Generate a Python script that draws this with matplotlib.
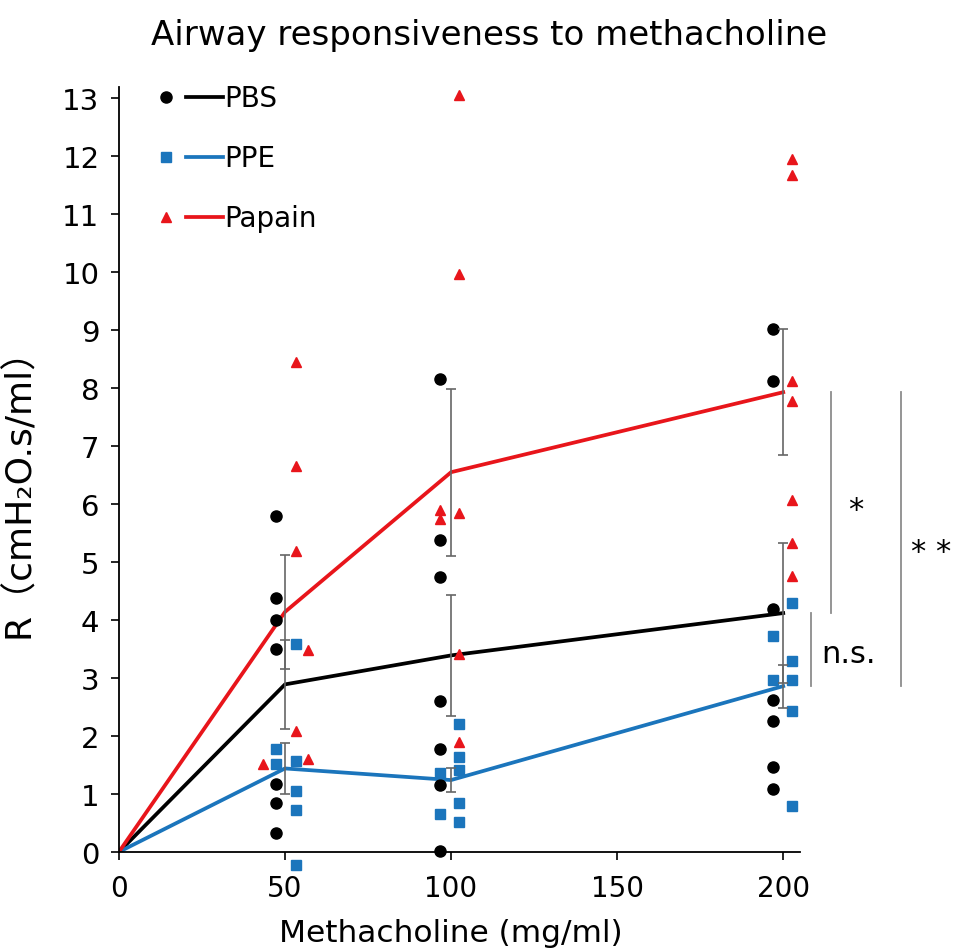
import matplotlib
matplotlib.use("Agg")
import matplotlib.pyplot as plt
from matplotlib.lines import Line2D
from matplotlib.legend_handler import HandlerTuple

plt.rcParams['font.family'] = ['DejaVu Sans', 'Noto Sans CJK JP']

# group means (lines) and SEM (error bars)
dose = [0, 50, 100, 200]
pbs_mean = [0, 2.89, 3.39, 4.12]
pbs_sem = [0, 0.77, 1.05, 1.21]
ppe_mean = [0, 1.44, 1.24, 2.86]
ppe_sem = [0, 0.44, 0.21, 0.37]
pap_mean = [0, 4.14, 6.55, 7.93]
pap_sem = [0, 0.99, 1.44, 1.09]

# individual animals (slightly jittered along x)
pbs_x = [47.3] * 7 + [96.8] * 7 + [196.8] * 7
pbs_y = [5.8, 4.38, 4.0, 3.5, 1.17, 0.85, 0.33,
         8.15, 5.38, 4.75, 2.6, 1.78, 1.15, 0.02,
         9.02, 8.13, 4.19, 2.62, 2.26, 1.47, 1.09]

ppe_x = [47.3, 47.3, 53.2, 53.2, 53.2, 53.2, 53.2,
         96.8, 96.8, 102.4, 102.4, 102.4, 102.4, 102.4,
         196.8, 196.8, 202.5, 202.5, 202.5, 202.5, 202.5]
ppe_y = [1.77, 1.51, 3.58, 1.57, 1.05, 0.72, -0.22,
         1.36, 0.66, 2.2, 1.64, 1.42, 0.85, 0.51,
         3.72, 2.97, 4.30, 3.30, 2.97, 2.43, 0.80]

pap_x = [53.2, 53.2, 53.2, 57.0, 53.2, 43.4, 57.0,
         102.4, 102.4, 96.8, 96.8, 102.4, 102.4, 102.4,
         202.5, 202.5, 202.5, 202.5, 202.5, 202.5, 202.5]
pap_y = [8.45, 6.66, 5.19, 3.49, 2.08, 1.51, 1.6,
         13.06, 9.97, 5.9, 5.75, 5.85, 3.42, 1.9,
         11.95, 11.68, 8.12, 7.77, 6.07, 5.33, 4.76]

xticks = [0, 50, 100, 150, 200]
yticks = list(range(0, 14))

black = "#000000"
blue = "#1b75bc"
red = "#e8151b"
err_grey = "#666666"

fig = plt.figure(figsize=(9.59, 9.53), dpi=100)
ax = fig.add_axes([0.124, 0.105, 0.710, 0.803])

ax.plot(dose, pbs_mean, color=black, lw=2.7, zorder=2)
ax.plot(dose, ppe_mean, color=blue, lw=2.7, zorder=2)
ax.plot(dose, pap_mean, color=red, lw=2.7, zorder=2)

ax.plot(pbs_x, pbs_y, 'o', color=black, ms=8, ls='none', zorder=3, clip_on=False)
ax.plot(ppe_x, ppe_y, 's', color=blue, ms=6.5, ls='none', zorder=3, clip_on=False)
ax.plot(pap_x, pap_y, '^', color=red, ms=7, ls='none', zorder=3, clip_on=False)

for mean, sem in [(pbs_mean, pbs_sem), (ppe_mean, ppe_sem), (pap_mean, pap_sem)]:
    ax.errorbar(dose[1:], mean[1:], yerr=sem[1:], fmt='none', ecolor=err_grey,
                elinewidth=1.2, capsize=3.5, capthick=1.2, zorder=4)

# significance brackets at the highest dose
brackets = [(pap_mean[-1], pbs_mean[-1], 214.5, "*", 219.5, 5.9, 'left'),
            (pap_mean[-1], ppe_mean[-1], 235.6, "* *", 244.6, 5.18, 'center'),
            (pbs_mean[-1], ppe_mean[-1], 208.4, "n.s.", 211.5, 3.43, 'left')]
for top, bot, xl, lab, tx, ty, ha in brackets:
    ax.plot([xl, xl], [bot, top], color="#8c8c8c", lw=1.3, clip_on=False)
    ax.text(tx, ty, lab, fontsize=22, ha=ha, va='center', clip_on=False)

ax.set_xlim(0, 205)
ax.set_ylim(0, 13.2)
ax.set_xticks(xticks)
ax.set_yticks(yticks)
ax.tick_params(axis='y', labelsize=21, length=6, width=1.2, direction='out', pad=8)
ax.tick_params(axis='x', labelsize=20, length=6, width=1.2, direction='out', pad=10)
for side in ['top', 'right']:
    ax.spines[side].set_visible(False)
for side in ['left', 'bottom']:
    ax.spines[side].set_linewidth(1.3)

ax.set_xlabel("Methacholine (mg/ml)", fontsize=22.5)
ax.xaxis.set_label_coords(0.487, -0.086)
ax.set_ylabel("R（cmH₂O.s/ml）", fontsize=26)
ax.yaxis.set_label_coords(-0.122, 0.482)
ax.set_title("Airway responsiveness to methacholine", fontsize=24.5, x=0.543, pad=31)

handles = [
    (Line2D([], [], marker='o', color=black, ms=8, ls='none'), Line2D([], [], color=black, lw=2.7)),
    (Line2D([], [], marker='s', color=blue, ms=6.5, ls='none'), Line2D([], [], color=blue, lw=2.7)),
    (Line2D([], [], marker='^', color=red, ms=7, ls='none'), Line2D([], [], color=red, lw=2.7)),
]
ax.legend(handles, ["PBS", "PPE", "Papain"], handler_map={tuple: HandlerTuple(ndivide=None, pad=0.05)},
          loc='upper left', bbox_to_anchor=(0.042, 1.003), frameon=False, fontsize=20,
          handlelength=2.7, handletextpad=0.07, labelspacing=1.15, borderpad=0, borderaxespad=0)

fig.savefig("out.png", dpi=100)
